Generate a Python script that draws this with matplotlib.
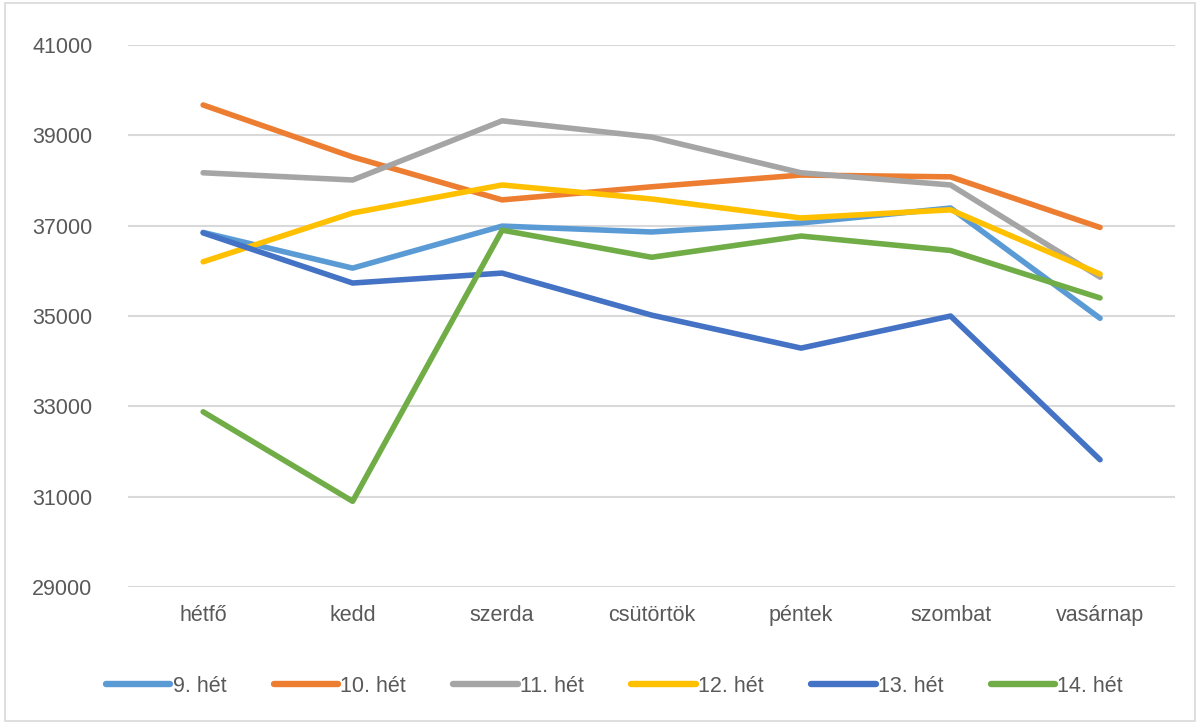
import matplotlib
matplotlib.use("Agg")
import matplotlib.pyplot as plt
from matplotlib.patches import Rectangle

# napok és heti értékek
napok = ["hétfő", "kedd", "szerda", "csütörtök", "péntek", "szombat", "vasárnap"]
het_nevek = ["9. hét", "10. hét", "11. hét", "12. hét", "13. hét", "14. hét"]

het9 = [36850, 36060, 36990, 36860, 37060, 37390, 34950]
het10 = [39670, 38520, 37570, 37860, 38120, 38080, 36960]
het11 = [38170, 38010, 39320, 38960, 38170, 37900, 35860]
het12 = [36200, 37280, 37900, 37590, 37170, 37350, 35930]
het13 = [36840, 35730, 35950, 35020, 34290, 35000, 31820]
het14 = [32880, 30900, 36900, 36300, 36770, 36450, 35400]

y_ticks = [29000, 31000, 33000, 35000, 37000, 39000, 41000]

szinek = ["#5B9BD5", "#ED7D31", "#A5A5A5", "#FFC000", "#4472C4", "#70AD47"]
szoveg_szin = "#595959"

plt.rcParams['font.family'] = ['Liberation Sans', 'DejaVu Sans']

fig = plt.figure(figsize=(12, 7.24), dpi=100)
ax = fig.add_axes([0.107, 0.189, 0.872, 0.749])

x = range(len(napok))
for nev, adat, szin in zip(het_nevek, [het9, het10, het11, het12, het13, het14], szinek):
    ax.plot(x, adat, color=szin, linewidth=4.0, label=nev, solid_capstyle='round',
            solid_joinstyle='round')

ax.set_xlim(-0.5, len(napok) - 0.5)
ax.set_ylim(29000, 41000)
ax.set_yticks(y_ticks)
ax.set_yticklabels([str(v) for v in y_ticks])
ax.set_xticks(list(x))
ax.set_xticklabels(napok)
ax.yaxis.grid(True, color="#D9D9D9", linewidth=1.5)
ax.set_axisbelow(True)
for s in ax.spines.values():
    s.set_visible(False)
ax.tick_params(axis='both', length=0, labelsize=15.5, colors=szoveg_szin)
ax.tick_params(axis='y', pad=26)
ax.tick_params(axis='x', pad=13)

leg = fig.legend(loc='center', bbox_to_anchor=(0.512, 0.052), ncol=6, frameon=False,
                 fontsize=15.5, handlelength=3.0, handletextpad=0.1, columnspacing=2.2,
                 labelcolor=szoveg_szin)
for h in leg.get_lines():
    h.set_linewidth(4.6)

# keret
fig.patches.append(Rectangle((0.004, 0.004), 0.992, 0.992, transform=fig.transFigure,
                             fill=False, edgecolor="#D9D9D9", linewidth=1.2))

fig.savefig("out.png", dpi=100)
